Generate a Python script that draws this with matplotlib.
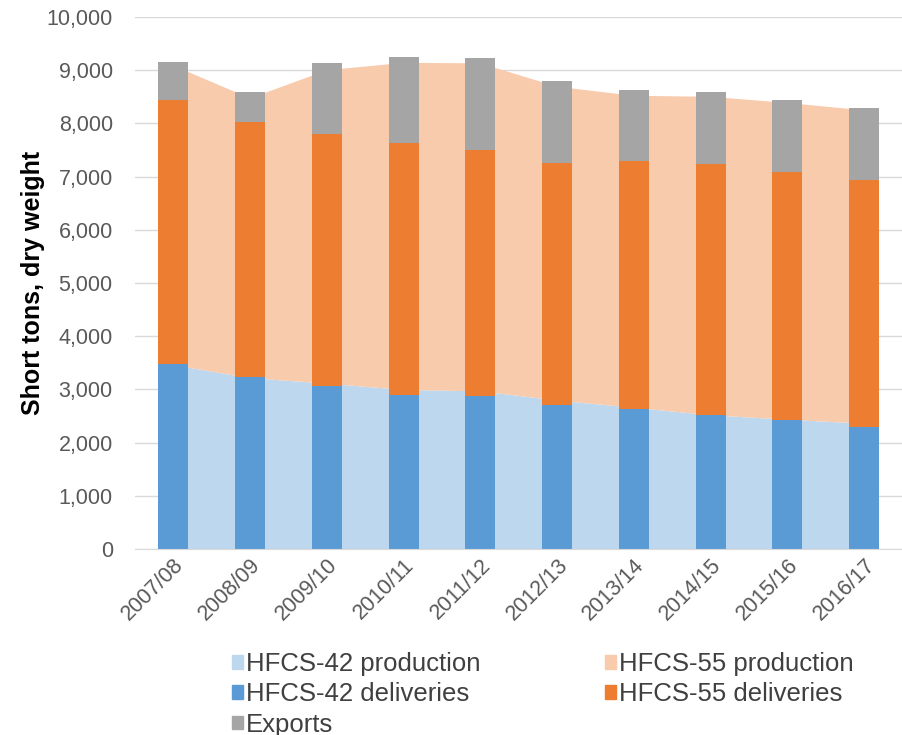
import matplotlib.pyplot as plt
import matplotlib.patches as mpatches
from matplotlib.ticker import FuncFormatter
import numpy as np

plt.rcParams['font.family'] = ['Liberation Sans', 'DejaVu Sans']

years = ['2007/08', '2008/09', '2009/10', '2010/11', '2011/12',
         '2012/13', '2013/14', '2014/15', '2015/16', '2016/17']

# production (areas)
hfcs42_prod = [3456, 3212, 3109, 2989, 2964, 2790, 2655, 2514, 2430, 2356]
hfcs55_prod = [5628, 5257, 5889, 6148, 6164, 5897, 5863, 5985, 5953, 5888]

# deliveries and exports (stacked columns)
hfcs42_del = [3475, 3235, 3055, 2900, 2875, 2700, 2640, 2515, 2420, 2285]
hfcs55_del = [4968, 4782, 4744, 4723, 4630, 4561, 4652, 4721, 4659, 4651]
exports = [712, 563, 1332, 1627, 1720, 1538, 1325, 1351, 1358, 1351]

c42p = '#BDD7EE'
c55p = '#F8CBAD'
c42d = '#5B9BD5'
c55d = '#ED7D31'
cexp = '#A5A5A5'

fig = plt.figure(figsize=(9.03, 7.35), dpi=100)
ax = fig.add_axes([0.1495, 0.253, 0.85, 0.724])

x = np.arange(len(years))
ax.stackplot(x, hfcs42_prod, hfcs55_prod, colors=[c42p, c55p], zorder=1)

w = 0.39
b1 = np.array(hfcs42_del)
b2 = b1 + np.array(hfcs55_del)
ax.bar(x, hfcs42_del, w, color=c42d, zorder=2)
ax.bar(x, hfcs55_del, w, bottom=b1, color=c55d, zorder=2)
ax.bar(x, exports, w, bottom=b2, color=cexp, zorder=2)

ax.set_xlim(-0.5, len(years) - 0.5)
ax.set_ylim(0, 10000)
ax.set_yticks(np.arange(0, 10001, 1000))
ax.yaxis.set_major_formatter(FuncFormatter(lambda v, p: f'{int(v):,}'))
ax.grid(axis='y', color='#D9D9D9', linewidth=1, zorder=0)
ax.set_axisbelow(True)
for s in ['top', 'right', 'left']:
    ax.spines[s].set_visible(False)
ax.spines['bottom'].set_color('#D9D9D9')
ax.spines['bottom'].set_zorder(3)

ax.tick_params(axis='y', length=0, pad=16, labelsize=15.5, labelcolor='#595959')
ax.tick_params(axis='x', length=0, pad=4, labelsize=15.5, labelcolor='#595959')
ax.set_xticks(x)
ax.set_xticklabels(years, rotation=45, ha='right', va='top', rotation_mode='anchor')

ax.set_ylabel('Short tons, dry weight', fontsize=18, fontweight='bold', labelpad=1)

handles = [
    mpatches.Patch(color=c42p, label='HFCS-42 production'),
    mpatches.Patch(color=c42d, label='HFCS-42 deliveries'),
    mpatches.Patch(color=cexp, label='Exports'),
    mpatches.Patch(color=c55p, label='HFCS-55 production'),
    mpatches.Patch(color=c55d, label='HFCS-55 deliveries'),
]
fig.legend(handles=handles, loc='upper left', bbox_to_anchor=(0.257, 0.113),
           ncol=2, frameon=False, fontsize=18.5, handlelength=0.43,
           handleheight=0.43, handletextpad=0.12, columnspacing=4.85,
           labelspacing=0.25, borderaxespad=0, borderpad=0,
           labelcolor='#404040')

fig.savefig('out.png', dpi=100)
